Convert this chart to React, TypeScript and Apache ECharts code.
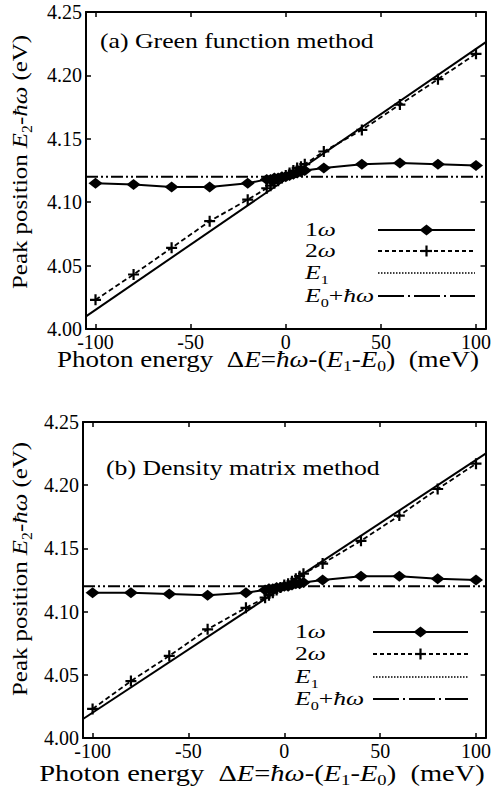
import React, { useEffect, useRef } from "react";
import * as echarts from "echarts";

// ---------- data ----------
const deltaE = [-100, -80, -60, -40, -20, -10, -8, -6, -4, -2, 0, 2, 4, 6, 8, 10, 20, 40, 60, 80, 100];

// (a) Green function method
const omega1A = [4.115, 4.114, 4.112, 4.112, 4.115, 4.118, 4.118, 4.119, 4.119, 4.120, 4.120, 4.121, 4.122, 4.123, 4.124, 4.125, 4.127, 4.130, 4.131, 4.130, 4.129];
const omega2A = [4.023, 4.043, 4.064, 4.085, 4.102, 4.111, 4.113, 4.115, 4.117, 4.119, 4.121, 4.123, 4.125, 4.127, 4.128, 4.130, 4.140, 4.157, 4.177, 4.197, 4.217];
const diagonalA = [4.010, 4.226];

// (b) Density matrix method
const omega1B = [4.115, 4.115, 4.114, 4.113, 4.115, 4.117, 4.118, 4.118, 4.119, 4.119, 4.120, 4.120, 4.121, 4.122, 4.122, 4.123, 4.125, 4.128, 4.128, 4.126, 4.125];
const omega2B = [4.023, 4.045, 4.065, 4.086, 4.103, 4.111, 4.113, 4.115, 4.117, 4.119, 4.121, 4.122, 4.124, 4.126, 4.128, 4.130, 4.138, 4.156, 4.176, 4.197, 4.217];
const diagonalB = [4.015, 4.225];

const lineEnds = [-105, 105];
const e1Level = [4.12, 4.12];

const xTickValues = [-100, -50, 0, 50, 100];
const yTickValues = [4.0, 4.05, 4.1, 4.15, 4.2, 4.25];
const seriesNames = ["1ω", "2ω", "E1", "E0+ħω"];
const legendLabels = ["{n|1}{i|ω}", "{n|2}{i|ω}", "{i|E}{s|1}", "{i|E}{s|0}{n|+}{i|ħω}"];
const panelTitles = ["(a) Green function method", "(b) Density matrix method"];
const xAxisTitle = "{n|Photon energy  Δ}{i|E}{n|=}{i|ħω}{n|-(}{i|E}{s|1}{n|-}{i|E}{s|0}{n|)  (meV)}";
const yAxisTitle = "{n|Peak position }{i|E}{s|2}{n|-}{i|ħω}{n| (eV)}";

// ---------- helpers ----------
const SERIF = "Liberation Serif";
const PLUS = "path://M5 0 L5 10 M0 5 L10 5";

const pairs = (xs: number[], ys: number[]) => xs.map((x, i) => [x, ys[i]]);

const rich = (size: number) => {
  const sub = Math.round(size * 0.65);
  return {
    n: { fontFamily: SERIF, fontSize: size, lineHeight: size + 6, color: "#000", verticalAlign: "middle" },
    i: { fontFamily: SERIF, fontSize: size, lineHeight: size + 6, color: "#000", fontStyle: "italic", verticalAlign: "middle" },
    s: { fontFamily: SERIF, fontSize: sub, lineHeight: sub, color: "#000", verticalAlign: "bottom" },
  };
};

const frameLine = { show: true, onZero: false, lineStyle: { color: "#000", width: 2 } };
const tickStyle = { color: "#000", width: 1.5 };

function xAxesFor(gridIndex: number) {
  return [
    {
      type: "value", gridIndex, min: -105, max: 105, position: "bottom",
      axisLine: frameLine,
      axisTick: { show: true, inside: true, length: 5, customValues: xTickValues, lineStyle: tickStyle },
      axisLabel: { show: true, customValues: xTickValues, fontFamily: SERIF, fontSize: 20, color: "#000", margin: 3 },
      splitLine: { show: false },
    },
    {
      type: "value", gridIndex, min: -105, max: 105, position: "top",
      axisLine: frameLine,
      axisTick: { show: true, inside: true, length: 5, customValues: xTickValues, lineStyle: tickStyle },
      axisLabel: { show: false },
      splitLine: { show: false },
    },
  ];
}

function yAxesFor(gridIndex: number) {
  return [
    {
      type: "value", gridIndex, min: 4.0, max: 4.25, position: "left",
      axisLine: frameLine,
      axisTick: { show: true, inside: true, length: 5, customValues: yTickValues, lineStyle: tickStyle },
      axisLabel: {
        show: true, customValues: yTickValues, fontFamily: SERIF, fontSize: 20, color: "#000", margin: 4,
        formatter: (v: number) => v.toFixed(2),
      },
      splitLine: { show: false },
    },
    {
      type: "value", gridIndex, min: 4.0, max: 4.25, position: "right",
      axisLine: frameLine,
      axisTick: { show: true, inside: true, length: 5, customValues: yTickValues, lineStyle: tickStyle },
      axisLabel: { show: false },
      splitLine: { show: false },
    },
  ];
}

function seriesFor(panel: number, omega1: number[], omega2: number[], diagonal: number[]) {
  const axes = { xAxisIndex: panel * 2, yAxisIndex: panel * 2 };
  return [
    {
      name: seriesNames[3], type: "line", ...axes, data: pairs(lineEnds, diagonal), symbol: "none",
      lineStyle: { color: "#000", width: 2 }, z: 2,
    },
    {
      name: seriesNames[2], type: "line", ...axes, data: pairs(lineEnds, e1Level), symbol: "none",
      lineStyle: { color: "#000", width: 2, type: [12, 3, 2, 3, 2, 3] }, z: 2,
    },
    {
      name: seriesNames[1], type: "line", ...axes, data: pairs(deltaE, omega2), symbol: PLUS, symbolSize: 11,
      showAllSymbol: true,
      itemStyle: { color: "#000", borderColor: "#000", borderWidth: 2.2 },
      lineStyle: { color: "#000", width: 1.8, type: [5, 3] }, z: 3,
    },
    {
      name: seriesNames[0], type: "line", ...axes, data: pairs(deltaE, omega1), symbol: "diamond", symbolSize: [14, 11],
      showAllSymbol: true,
      itemStyle: { color: "#000", borderColor: "#000", borderWidth: 0 },
      lineStyle: { color: "#000", width: 2 }, z: 4,
    },
  ];
}

function legendGraphics(textX: number, x1: number, x2: number, rows: number[]) {
  const els: any[] = [];
  const styles = [
    { dash: null, width: 2, marker: "diamond" },
    { dash: [4, 3], width: 2, marker: "plus" },
    { dash: [1.5, 1.5], width: 1.5, marker: null },
    { dash: [26, 4, 2, 4], width: 2, marker: null },
  ];
  const cx = (x1 + x2) / 2;
  rows.forEach((y, k) => {
    const st = styles[k];
    els.push({
      type: "text", x: textX, y, scaleX: 1.35, silent: true,
      style: { text: legendLabels[k], rich: rich(19), align: "left", verticalAlign: "middle" },
    });
    els.push({
      type: "line", silent: true, shape: { x1, y1: y, x2, y2: y },
      style: { stroke: "#000", lineWidth: st.width, lineDash: st.dash || undefined },
    });
    if (st.marker === "diamond") {
      els.push({
        type: "polygon", silent: true,
        shape: { points: [[cx - 7, y], [cx, y - 5.5], [cx + 7, y], [cx, y + 5.5]] },
        style: { fill: "#000" },
      });
    } else if (st.marker === "plus") {
      els.push({ type: "line", silent: true, shape: { x1: cx - 5.5, y1: y, x2: cx + 5.5, y2: y }, style: { stroke: "#000", lineWidth: 2.2 } });
      els.push({ type: "line", silent: true, shape: { x1: cx, y1: y - 5.5, x2: cx, y2: y + 5.5 }, style: { stroke: "#000", lineWidth: 2.2 } });
    }
  });
  return els;
}

function panelTexts(titleX: number, titleY: number, title: string, xNameX: number, xNameY: number, xScale: number, yNameX: number, yNameY: number) {
  return [
    {
      type: "text", x: titleX, y: titleY, scaleX: 1.17, silent: true,
      style: { text: title, fontFamily: SERIF, fontSize: 22, fill: "#000", align: "left", verticalAlign: "middle" },
    },
    {
      type: "text", x: xNameX, y: xNameY, scaleX: xScale, silent: true,
      style: { text: xAxisTitle, rich: rich(23), align: "center", verticalAlign: "middle" },
    },
    {
      type: "text", x: yNameX, y: yNameY, rotation: Math.PI / 2, scaleX: 1.13, silent: true,
      style: { text: yAxisTitle, rich: rich(22), align: "center", verticalAlign: "middle" },
    },
  ];
}

const option: any = {
  animation: false,
  backgroundColor: "#fff",
  textStyle: { fontFamily: SERIF },
  grid: [
    { left: 86, top: 12, width: 402, height: 317 },
    { left: 83, top: 422, width: 404, height: 316 },
  ],
  xAxis: [...xAxesFor(0), ...xAxesFor(1)],
  yAxis: [...yAxesFor(0), ...yAxesFor(1)],
  series: [
    ...seriesFor(0, omega1A, omega2A, diagonalA),
    ...seriesFor(1, omega1B, omega2B, diagonalB),
  ],
  graphic: [
    ...panelTexts(100, 41, panelTitles[0], 268, 359, 1.175, 20, 162),
    ...panelTexts(106, 468, panelTitles[1], 262, 773, 1.24, 20, 569),
    ...legendGraphics(305, 378, 475, [230, 251, 273, 296]),
    ...legendGraphics(295, 373, 468, [632, 654, 677, 699]),
  ],
};

export default function App() {
  const ref = useRef<HTMLDivElement>(null);
  useEffect(() => {
    if (!ref.current) return;
    const chart = echarts.init(ref.current, null, { renderer: "svg" });
    chart.setOption(option);
    return () => chart.dispose();
  }, []);
  return (
    <div
      ref={ref}
      style={{ position: "absolute", left: 0, top: 0, width: 494, height: 793, background: "#fff" }}
    />
  );
}
